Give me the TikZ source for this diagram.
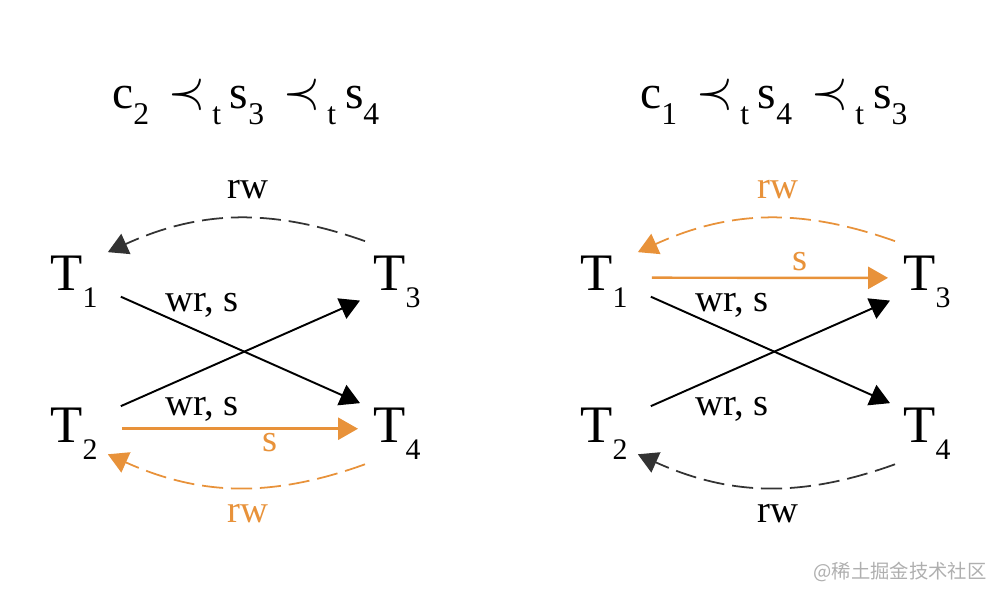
\documentclass[tikz,border=0pt]{standalone}
\usepackage{fontspec}
\setmainfont{Liberation Serif}
\newfontfamily\cjkfont{Noto Sans CJK SC}
\usepackage{xcolor}
\usetikzlibrary{arrows.meta, calc}

\definecolor{sorange}{RGB}{232,146,58}
\definecolor{wmgray}{RGB}{175,175,175}

% T with a lowered index
\newcommand{\Tsub}[1]{T\raisebox{-10.2pt}{\fontsize{17}{17}\selectfont #1}}
% pieces of the order lines
\newcommand{\osub}[1]{\raisebox{-9.6pt}{\fontsize{18}{18}\selectfont #1}}
\newcommand{\oprec}{\scalebox{1.3}[1.5]{\fontsize{20}{20}\selectfont$\prec$}}

\begin{document}
\begin{tikzpicture}[x=0.02cm, y=-0.02cm, >={Triangle[length=11.3pt, width=12.5pt]},
  tnode/.style={inner sep=0pt, anchor=base west, font=\fontsize{30}{30}\selectfont},
  order/.style={inner sep=0pt, anchor=base west, font=\fontsize{27}{27}\selectfont},
  lbl/.style={inner sep=0pt, anchor=base, font=\fontsize{22}{22}\selectfont},
  edge/.style={->, line width=1.1pt},
  sedge/.style={->, line width=1.4pt, sorange},
  rwedge/.style={->, line width=1pt, dash pattern=on 12pt off 4.5pt}]

\useasboundingbox (0,0) rectangle (1000,600);

% Left: order line
\node[order] (oL) at (112,108) {c\osub{2}\hspace{11pt}\oprec\hspace{4pt}\osub{t}\hspace{5pt}s\osub{3}\hspace{11pt}\oprec\hspace{4pt}\osub{t}\hspace{5pt}s\osub{4}};

% Left: transactions
\node[tnode] (T1) at (50,290) {\Tsub{1}};
\node[tnode] (T3) at (373,290) {\Tsub{3}};
\node[tnode] (T2) at (50,442) {\Tsub{2}};
\node[tnode] (T4) at (373,442) {\Tsub{4}};

% Left: edges
\draw[rwedge, black!80] ([shift={(-8,-14)}]T3.north west) to[bend right=22] ([shift={(10,-3)}]T1.north east);
\draw[edge] ([shift={(23,15)}]T1.east) -- ([shift={(-13,-4)}]T4.north west);
\draw[edge] ([shift={(23,-1)}]T2.north east) -- ([shift={(-13,-8)}]T3.south west);
\draw[sedge] ([shift={(24,-5)}]T2.east) -- ([shift={(-15,-5)}]T4.west);
\draw[rwedge, sorange] ([shift={(-8,4)}]T4.south west) to[bend left=22] ([shift={(10,-6)}]T2.south east);

\node[lbl] (rwL1) at (248,198) {rw};
\node[lbl] (wrL1) at (202,311) {wr, s};
\node[lbl] (wrL2) at (202,415) {wr, s};
\node[lbl, sorange] (sL) at (270,451) {s};
\node[lbl, sorange] (rwL2) at (248,522) {rw};

% Right: order line
\node[order] (oR) at (640,108) {c\osub{1}\hspace{11pt}\oprec\hspace{4pt}\osub{t}\hspace{5pt}s\osub{4}\hspace{11pt}\oprec\hspace{4pt}\osub{t}\hspace{5pt}s\osub{3}};

% Right: transactions
\node[tnode] (U1) at (580,290) {\Tsub{1}};
\node[tnode] (U3) at (903,290) {\Tsub{3}};
\node[tnode] (U2) at (580,442) {\Tsub{2}};
\node[tnode] (U4) at (903,442) {\Tsub{4}};

% Right: edges
\draw[rwedge, sorange] ([shift={(-8,-14)}]U3.north west) to[bend right=22] ([shift={(10,-3)}]U1.north east);
\draw[sedge] ([shift={(24,-4)}]U1.east) -- ([shift={(-15,-4)}]U3.west);
\draw[edge] ([shift={(23,15)}]U1.east) -- ([shift={(-13,-4)}]U4.north west);
\draw[edge] ([shift={(23,-1)}]U2.north east) -- ([shift={(-13,-8)}]U3.south west);
\draw[rwedge, black!80] ([shift={(-8,4)}]U4.south west) to[bend left=22] ([shift={(10,-6)}]U2.south east);

\node[lbl, sorange] (rwR1) at (778,198) {rw};
\node[lbl, sorange] (sR) at (800,270) {s};
\node[lbl] (wrR1) at (732,311) {wr, s};
\node[lbl] (wrR2) at (732,415) {wr, s};
\node[lbl] (rwR2) at (778,522) {rw};

% watermark
\node[inner sep=0pt, wmgray, font=\cjkfont\fontsize{11}{11}\selectfont] (wm) at (900,572) {@稀土掘金技术社区};

\end{tikzpicture}
\end{document}
